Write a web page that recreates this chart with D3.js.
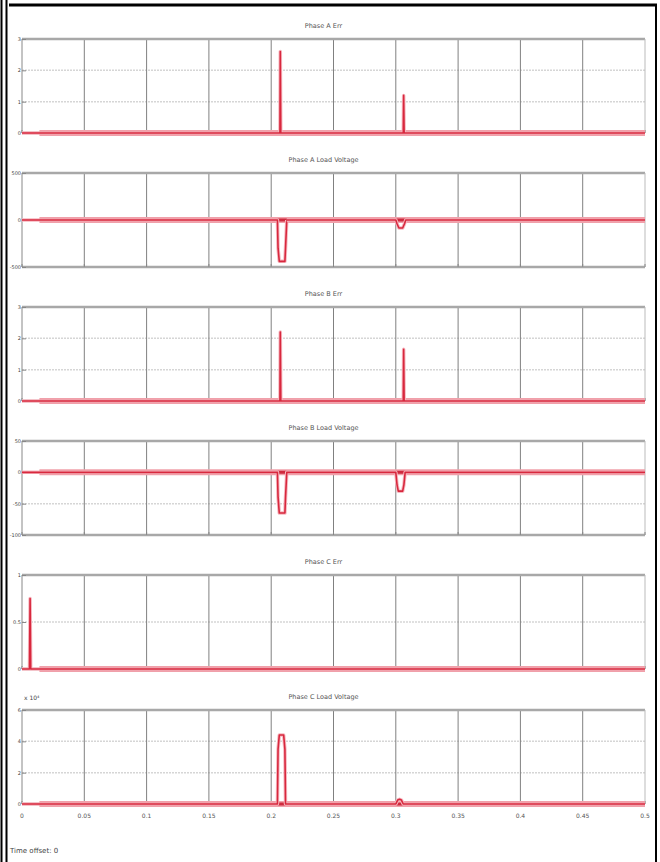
<!DOCTYPE html>
<html>
<head>
<meta charset="utf-8">
<script src="https://cdn.jsdelivr.net/npm/d3@7"></script>
<style>
  body { margin: 0; background: #fff; }
  svg text { font-family: "DejaVu Sans", sans-serif; fill: #444; }
</style>
</head>
<body>
<svg id="chart" width="660" height="862"></svg>
<script>
// panel titles
var titles = ["Phase A Err", "Phase A Load Voltage", "Phase B Err",
              "Phase B Load Voltage", "Phase C Err", "Phase C Load Voltage"];

// x axis (time, s)
var xTicks = [0, 0.05, 0.1, 0.15, 0.2, 0.25, 0.3, 0.35, 0.4, 0.45, 0.5];
var xTickLabels = ["0", "0.05", "0.1", "0.15", "0.2", "0.25", "0.3", "0.35", "0.4", "0.45", "0.5"];

// y ticks per panel
var yTicks = [
  [0, 1, 2, 3],
  [-500, 0, 500],
  [0, 1, 2, 3],
  [-100, -50, 0, 50],
  [0, 0.5, 1],
  [0, 2, 4, 6]
];

// series: time points and values per panel
var t1 = [0, 0.207, 0.2073, 0.2077, 0.306, 0.3063, 0.3067, 0.5];
var v1 = [0, 0, 2.6, 0, 0, 1.2, 0, 0];

var t2 = [0, 0.205, 0.2055, 0.2065, 0.211, 0.2115, 0.2125];
var v2 = [0, 0, -300, -440, -440, -300, 0];
var t2b = [0.2125, 0.3, 0.301, 0.3025, 0.3055, 0.307, 0.308, 0.5];
var v2b = [0, 0, -40, -85, -85, -40, 0, 0];

var t3 = [0, 0.207, 0.2073, 0.2077, 0.306, 0.3063, 0.3067, 0.5];
var v3 = [0, 0, 2.2, 0, 0, 1.65, 0, 0];

var t4 = [0, 0.205, 0.2055, 0.2065, 0.211, 0.2115, 0.2125, 0.3, 0.301, 0.302, 0.3055, 0.3065, 0.3075, 0.5];
var v4 = [0, 0, -40, -65, -65, -40, 0, 0, -20, -30, -30, -20, 0, 0];

var t5 = [0, 0.006, 0.0065, 0.007, 0.5];
var v5 = [0, 0, 0.75, 0, 0];

var t6 = [0, 0.205, 0.2055, 0.2065, 0.21, 0.211, 0.2115, 0.3, 0.3015, 0.303, 0.3045, 0.306, 0.5];
var v6 = [0, 0, 3.5, 4.4, 4.4, 3.5, 0, 0, 0.25, 0.3, 0.25, 0, 0];

var series = [
  [[t1, v1]],
  [[t2, v2], [t2b, v2b]],
  [[t3, v3]],
  [[t4, v4]],
  [[t5, v5]],
  [[t6, v6]]
];

var svg = d3.select("#chart");

// outer window frame
svg.append("line").attr("x1", 9).attr("x2", 657).attr("y1", 5).attr("y2", 5)
  .attr("stroke", "#000").attr("stroke-width", 3);
svg.append("line").attr("x1", 1.5).attr("x2", 1.5).attr("y1", 0).attr("y2", 862)
  .attr("stroke", "#000").attr("stroke-width", 2);
svg.append("line").attr("x1", 6.5).attr("x2", 6.5).attr("y1", 0).attr("y2", 862)
  .attr("stroke", "#000").attr("stroke-width", 2);
svg.append("line").attr("x1", 656).attr("x2", 656).attr("y1", 4).attr("y2", 862)
  .attr("stroke", "#000").attr("stroke-width", 2);

var left = 22, right = 645;
var tops = [39, 173, 307, 441, 575, 710];
var plotH = 94;

var x = d3.scaleLinear().domain([0, 0.5]).range([left, right]);

tops.forEach(function(top, i) {
  var ticks = yTicks[i];
  var y = d3.scaleLinear().domain(d3.extent(ticks)).range([top + plotH, top]);
  var g = svg.append("g");

  // title
  g.append("text").attr("x", (left + right) / 2 - 10).attr("y", top - 11)
    .attr("text-anchor", "middle").style("font-size", "6.5px").style("fill", "#555")
    .text(titles[i]);

  // horizontal grid
  g.selectAll(".hg").data(ticks).enter().append("line")
    .attr("x1", left).attr("x2", right)
    .attr("y1", d => y(d)).attr("y2", d => y(d))
    .attr("stroke", "#d6d6d6").attr("stroke-width", 1.5)
    .attr("stroke-dasharray", "2,1");

  // vertical grid
  g.selectAll(".vg").data(xTicks.slice(1, -1)).enter().append("line")
    .attr("x1", d => x(d)).attr("x2", d => x(d))
    .attr("y1", top).attr("y2", top + plotH)
    .attr("stroke", "#808080").attr("stroke-width", 1);

  // frame
  g.append("line").attr("x1", left).attr("x2", right).attr("y1", top).attr("y2", top)
    .attr("stroke", "#a8a8a8").attr("stroke-width", 2.5);
  g.append("line").attr("x1", left).attr("x2", right).attr("y1", top + plotH).attr("y2", top + plotH)
    .attr("stroke", "#a8a8a8").attr("stroke-width", 2.5);
  g.append("line").attr("x1", left).attr("x2", left).attr("y1", top).attr("y2", top + plotH)
    .attr("stroke", "#888").attr("stroke-width", 1);
  g.append("line").attr("x1", right).attr("x2", right).attr("y1", top).attr("y2", top + plotH)
    .attr("stroke", "#bbb").attr("stroke-width", 1);

  // y axis labels
  var ya = d3.axisLeft(y).tickValues(ticks).tickFormat(d => String(d)).tickSize(-4).tickPadding(1);
  var ag = g.append("g").attr("transform", "translate(" + left + ",0)").call(ya);
  ag.select(".domain").remove();
  ag.selectAll("line").attr("stroke", "#888");
  ag.selectAll("text").attr("fill", "#666").style("font-size", "5px");

  // x ticks inside bottom
  g.selectAll(".xt").data(xTicks).enter().append("line")
    .attr("x1", d => x(d)).attr("x2", d => x(d))
    .attr("y1", top + plotH - 3).attr("y2", top + plotH)
    .attr("stroke", "#888");

  // thick zero trace
  g.append("line").attr("x1", x(0.014)).attr("x2", right).attr("y1", y(0)).attr("y2", y(0))
    .attr("stroke", "#f0a0aa").attr("stroke-width", 6);
  g.append("line").attr("x1", x(0.014)).attr("x2", right).attr("y1", y(0)).attr("y2", y(0))
    .attr("stroke", "#cf2a3e").attr("stroke-width", 3);

  // signals
  var line = d3.line().x(d => x(d[0])).y(d => y(d[1]));
  series[i].forEach(function(s) {
    var pts = s[0].map(function(tv, k) { return [tv, s[1][k]]; });
    g.append("path").datum(pts).attr("d", line).attr("fill", "none")
      .attr("stroke", "#f6b8c0").attr("stroke-width", 3.5).attr("stroke-linejoin", "round");
    g.append("path").datum(pts).attr("d", line).attr("fill", "none")
      .attr("stroke", "#d8283e").attr("stroke-width", 1.6).attr("stroke-linejoin", "round");
  });
});

// exponent label of last panel
svg.append("text").attr("x", 24).attr("y", 700).style("font-size", "6px").text("x 10\u2074");

// bottom x axis labels
var bottom = tops[5] + plotH;
svg.selectAll(".xl").data(xTicks).enter().append("text")
  .attr("x", d => x(d)).attr("y", bottom + 14)
  .attr("text-anchor", "middle").style("font-size", "6px").style("fill", "#555")
  .text((d, k) => xTickLabels[k]);

svg.append("text").attr("x", 10).attr("y", 853).style("font-size", "7px").text("Time offset: 0");
</script>
</body>
</html>
